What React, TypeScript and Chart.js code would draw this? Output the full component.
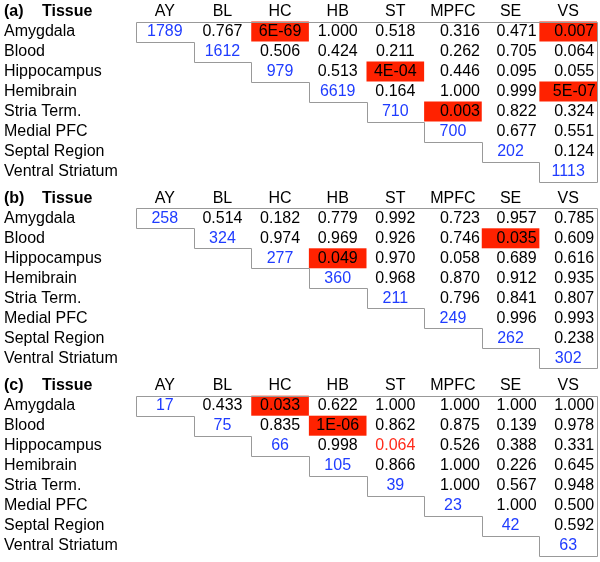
import React, { useEffect, useRef } from "react";
import { Chart, registerables } from "chart.js";
Chart.register(...registerables);

const columns = ["AY", "BL", "HC", "HB", "ST", "MPFC", "SE", "VS"];
const tissues = [
  "Amygdala",
  "Blood",
  "Hippocampus",
  "Hemibrain",
  "Stria Term.",
  "Medial PFC",
  "Septal Region",
  "Ventral Striatum",
];
const panelLabels = ["(a)", "(b)", "(c)"];
const headerTitle = "Tissue";

// diagonal counts
const countsA = [1789, 1612, 979, 6619, 710, 700, 202, 1113];
const countsB = [258, 324, 277, 360, 211, 249, 262, 302];
const countsC = [17, 75, 66, 105, 39, 23, 42, 63];

// upper-triangle p-values, row i holds columns i+1..7
const pA = [
  [0.767, 6e-69, 1.0, 0.518, 0.316, 0.471, 0.007],
  [0.506, 0.424, 0.211, 0.262, 0.705, 0.064],
  [0.513, 4e-4, 0.446, 0.095, 0.055],
  [0.164, 1.0, 0.999, 5e-7],
  [0.003, 0.822, 0.324],
  [0.677, 0.551],
  [0.124],
  [],
];
const pB = [
  [0.514, 0.182, 0.779, 0.992, 0.723, 0.957, 0.785],
  [0.974, 0.969, 0.926, 0.746, 0.035, 0.609],
  [0.049, 0.97, 0.058, 0.689, 0.616],
  [0.968, 0.87, 0.912, 0.935],
  [0.796, 0.841, 0.807],
  [0.996, 0.993],
  [0.238],
  [],
];
const pC = [
  [0.433, 0.033, 0.622, 1.0, 1.0, 1.0, 1.0],
  [0.835, 1e-6, 0.862, 0.875, 0.139, 0.978],
  [0.998, 0.064, 0.526, 0.388, 0.331],
  [0.866, 1.0, 0.226, 0.645],
  [1.0, 0.567, 0.948],
  [1.0, 0.5],
  [0.592],
  [],
];
// cells drawn with red text: [panel, row, col]
const redTextCells = [[2, 2, 4]];
const significance = 0.05;

const panelCounts = [countsA, countsB, countsC];
const panelP = [pA, pB, pC];

const panelTops = [0, 187, 374];
const panelPadTop = [1.5, 1.3, 1.7];
const PANEL_H = 187;
const valueOffsets = [0, 0, 0, 0, 0, 7, 6, 6];

const FONT = "'Liberation Sans', Arial, Helvetica, sans-serif";
const RED_FILL = "#ff2200";
const RED_TEXT = "#ff2a1a";
const BLUE = "#1f3cff";
const LINE = "#999999";

function fmt(v: number): string {
  if (v < 0.001) {
    const e = v.toExponential(0); // e.g. 6e-69
    const [m, ex] = e.split("e");
    const sign = ex[0] === "-" ? "-" : "+";
    const digits = ex.replace(/[-+]/, "").padStart(2, "0");
    return `${m}E${sign}${digits}`;
  }
  return v.toFixed(3);
}

function Panel({ index }: { index: number }) {
  const ref = useRef<HTMLCanvasElement | null>(null);
  useEffect(() => {
    if (!ref.current) return;
    const counts = panelCounts[index];
    const pvals = panelP[index];
    const points: any[] = [];
    tissues.forEach((t, r) => {
      points.push({ x: columns[r], y: t });
      pvals[r].forEach((_, k) => points.push({ x: columns[r + 1 + k], y: t }));
    });

    const tablePlugin = {
      id: "table",
      afterDatasetsDraw(chart: any) {
        const ctx = chart.ctx as CanvasRenderingContext2D;
        const xs = chart.scales.x;
        const ys = chart.scales.y;
        const cw = xs.width / columns.length;
        const rh = ys.height / (tissues.length + 1);
        const cx = (c: number) => xs.getPixelForValue(c);
        const cy = (r: number) => ys.getPixelForValue(r + 1);
        const left = (c: number) => cx(c) - cw / 2;
        const top = (r: number) => cy(r) - rh / 2;
        ctx.save();
        // red significant cells
        ctx.fillStyle = RED_FILL;
        pvals.forEach((row, r) => {
          row.forEach((v, k) => {
            const c = r + 1 + k;
            if (v < significance) {
              ctx.fillRect(left(c), top(r), cw, rh);
            }
          });
        });
        // staircase outline
        const snap = (v: number) => Math.round(v) + 0.5;
        ctx.strokeStyle = LINE;
        ctx.lineWidth = 1;
        ctx.beginPath();
        ctx.moveTo(snap(left(0)), snap(top(0)));
        ctx.lineTo(snap(left(columns.length - 1) + cw), snap(top(0)));
        ctx.lineTo(snap(left(columns.length - 1) + cw), snap(top(tissues.length - 1) + rh));
        for (let r = tissues.length - 1; r >= 0; r--) {
          ctx.lineTo(snap(left(r)), snap(top(r) + rh));
          ctx.lineTo(snap(left(r)), snap(top(r)));
        }
        ctx.stroke();

        ctx.textBaseline = "middle";
        // header row
        const hy = ys.getPixelForValue(0);
        ctx.fillStyle = "#000";
        ctx.font = `bold 16px ${FONT}`;
        ctx.textAlign = "left";
        ctx.fillText(panelLabels[index], 4, hy);
        ctx.fillText(headerTitle, 42, hy);
        ctx.font = `16px ${FONT}`;
        ctx.textAlign = "center";
        columns.forEach((c, i) => ctx.fillText(c, cx(i), hy));
        // row labels
        ctx.textAlign = "left";
        tissues.forEach((t, r) => ctx.fillText(t, 4, cy(r)));
        // diagonal counts
        ctx.textAlign = "center";
        ctx.fillStyle = BLUE;
        counts.forEach((n, r) => ctx.fillText(String(n), cx(r), cy(r)));
        // p-values
        pvals.forEach((row, r) => {
          row.forEach((v, k) => {
            const c = r + 1 + k;
            const isRed = redTextCells.some(
              (a) => a[0] === index && a[1] === r && a[2] === c
            );
            ctx.fillStyle = isRed ? RED_TEXT : "#000";
            ctx.fillText(fmt(v), cx(c) + valueOffsets[c], cy(r));
          });
        });
        ctx.restore();
      },
    };

    const chart = new Chart(ref.current, {
      type: "scatter",
      data: {
        datasets: [{ data: points, pointRadius: 0, showLine: false }],
      },
      options: {
        animation: false,
        responsive: false,
        devicePixelRatio: 1,
        layout: {
          padding: {
            left: 136,
            right: 3,
            top: panelPadTop[index],
            bottom: PANEL_H - panelPadTop[index] - 180,
          },
        },
        plugins: { legend: { display: false }, tooltip: { enabled: false } },
        scales: {
          x: { type: "category", labels: columns, offset: true, display: false },
          y: {
            type: "category",
            labels: [headerTitle, ...tissues],
            offset: true,
            display: false,
          },
        },
      } as any,
      plugins: [tablePlugin],
    });
    return () => chart.destroy();
  }, [index]);
  return (
    <canvas
      ref={ref}
      width={600}
      height={PANEL_H}
      style={{
        position: "absolute",
        left: 0,
        top: panelTops[index],
        width: 600,
        height: PANEL_H,
      }}
    />
  );
}

export default function App() {
  return (
    <div
      style={{
        position: "absolute",
        left: 0,
        top: 0,
        width: 600,
        height: 562,
        background: "#fff",
      }}
    >
      {panelLabels.map((_, i) => (
        <Panel key={i} index={i} />
      ))}
    </div>
  );
}
